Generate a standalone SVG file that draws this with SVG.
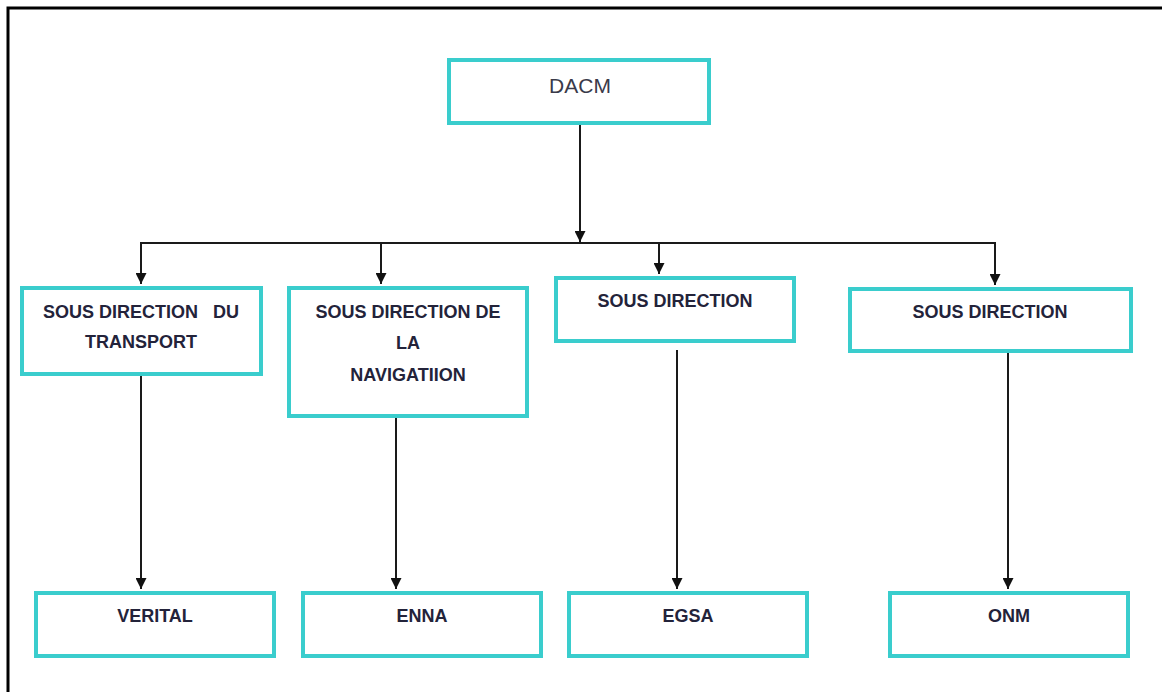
<svg xmlns="http://www.w3.org/2000/svg" width="1162" height="692" viewBox="0 0 1162 692">
<style>
.box{fill:#fff;stroke:#3acdcd;stroke-width:4}
.t{font-family:"Liberation Sans",Arial,sans-serif;font-size:18px;font-weight:bold;fill:#23233a;text-anchor:middle}
.t0{font-family:"Liberation Sans",Arial,sans-serif;font-size:21px;fill:#3a3a4a;text-anchor:middle}
.c{fill:none;stroke:#1a1a1a;stroke-width:2}
</style>
<defs>
<marker id="ah" viewBox="0 0 10 10" refX="10" refY="5" markerWidth="11" markerHeight="11" markerUnits="userSpaceOnUse" orient="auto">
<path d="M0,0 L10,5 L0,10 Z" fill="#111"/>
</marker>
</defs>
<rect width="1162" height="692" fill="#fff"/>
<path d="M8,692 V8 H1162" fill="none" stroke="#000" stroke-width="3"/>
<g id="connectors">
<path class="c" d="M580,125 V242" marker-end="url(#ah)"/>
<path class="c" d="M141,283 V243 H995 V284"/>
<path class="c" d="M141,243 V284" marker-end="url(#ah)"/>
<path class="c" d="M381,243 V284" marker-end="url(#ah)"/>
<path class="c" d="M659,243 V274" marker-end="url(#ah)"/>
<path class="c" d="M995,243 V285" marker-end="url(#ah)"/>
<path class="c" d="M141,376 V589" marker-end="url(#ah)"/>
<path class="c" d="M396,418 V589" marker-end="url(#ah)"/>
<path class="c" d="M677,350 V589" marker-end="url(#ah)"/>
<path class="c" d="M1008,352 V589" marker-end="url(#ah)"/>
</g>
<g id="dacm"><rect class="box" x="449" y="60" width="260" height="63"/><text class="t0" x="580" y="93">DACM</text></g>
<g id="sd-transport"><rect class="box" x="22" y="288" width="239" height="86"/><text class="t" x="141" y="318" xml:space="preserve">SOUS DIRECTION   DU</text><text class="t" x="141" y="348">TRANSPORT</text></g>
<g id="sd-navigation"><rect class="box" x="289" y="288" width="238" height="128"/><text class="t" x="408" y="318">SOUS DIRECTION DE</text><text class="t" x="408" y="349">LA</text><text class="t" x="408" y="381">NAVIGATIION</text></g>
<g id="sd-3"><rect class="box" x="556" y="278" width="238" height="63"/><text class="t" x="675" y="307">SOUS DIRECTION</text></g>
<g id="sd-4"><rect class="box" x="850" y="289" width="281" height="62"/><text class="t" x="990" y="318">SOUS DIRECTION</text></g>
<g id="verital"><rect class="box" x="36" y="593" width="238" height="63"/><text class="t" x="155" y="622">VERITAL</text></g>
<g id="enna"><rect class="box" x="303" y="593" width="238" height="63"/><text class="t" x="422" y="622">ENNA</text></g>
<g id="egsa"><rect class="box" x="569" y="593" width="238" height="63"/><text class="t" x="688" y="622">EGSA</text></g>
<g id="onm"><rect class="box" x="890" y="593" width="238" height="63"/><text class="t" x="1009" y="622">ONM</text></g>
</svg>
